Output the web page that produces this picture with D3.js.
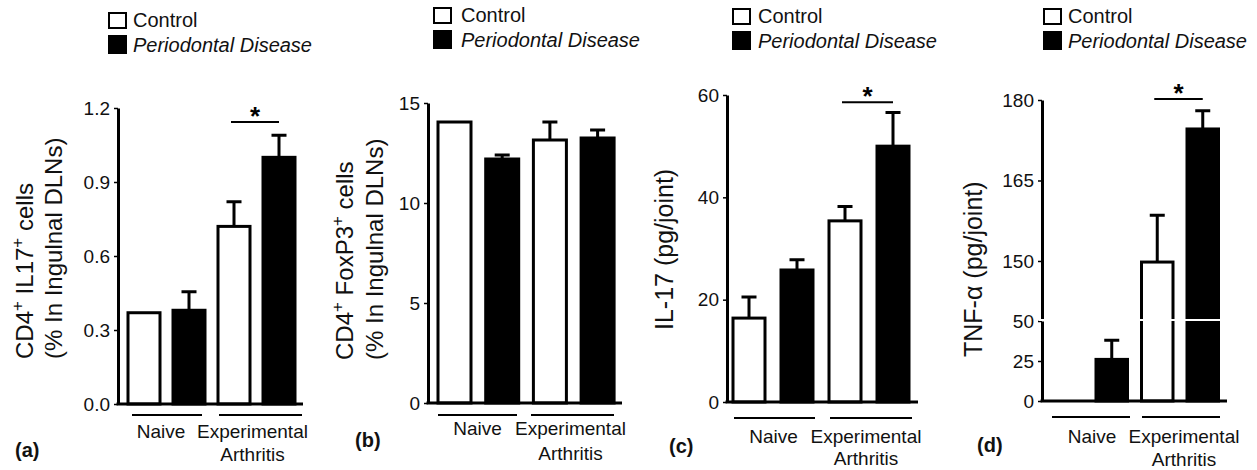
<!DOCTYPE html>
<html>
<head>
<meta charset="utf-8">
<script src="https://cdn.jsdelivr.net/npm/d3@7"></script>
<style>
  body { margin: 0; background: #fff; }
  svg { display: block; font-family: "Liberation Sans", Arial, sans-serif; }
  .tick text { font-size: 19px; fill: #111; }
</style>
</head>
<body>
<div id="chart"></div>
<script>
// categories
var groups = ["Naive", "Experimental Arthritis"];
var series = ["Control", "Periodontal Disease"];
// bar order: naive control, naive PD, arthritis control, arthritis PD
var bars = [0, 1, 2, 3];

// (a) CD4+ IL17+ cells (% in inguinal DLNs)
var il17CellMean = [0.37, 0.38, 0.72, 1.00];
var il17CellSem = [0, 0.075, 0.10, 0.09];
var il17CellTicks = [0, 0.3, 0.6, 0.9, 1.2];

// (b) CD4+ FoxP3+ cells (% in inguinal DLNs)
var foxp3Mean = [14.05, 12.2, 13.15, 13.25];
var foxp3Sem = [0, 0.2, 0.9, 0.4];
var foxp3Ticks = [0, 5, 10, 15];

// (c) IL-17 (pg/joint)
var il17JointMean = [16.4, 25.8, 35.4, 50.0];
var il17JointSem = [4.1, 2.0, 2.8, 6.6];
var il17JointTicks = [0, 20, 40, 60];

// (d) TNF-alpha (pg/joint), broken axis
var tnfMean = [0, 26, 149.8, 174.6];
var tnfSem = [0, 12, 8.7, 3.4];
var tnfTicksLow = [0, 25, 50];
var tnfTicksHigh = [150, 165, 180];

var svgWidth = 1257;
var svgHeight = 470;
var ink = "#111";

var svg = d3.select("#chart").append("svg")
    .attr("width", svgWidth)
    .attr("height", svgHeight);

svg.append("rect")
    .attr("width", svgWidth)
    .attr("height", svgHeight)
    .attr("fill", "#fff");

// panel layouts (pixels only)
var panels = [
    {
        letter: "(a)", letterX: 15, letterY: 457,
        mean: il17CellMean, sem: il17CellSem, ticks: il17CellTicks, fmt: d3.format(".1f"),
        axisX: 118, y0: 404, yTop: 108, barStart: 128, step: 45, bw: 32, xEnd: 303,
        lineY: 415, naiveBase: 438, arthBase: 461,
        lines: [[132, 202], [219, 302]], labelShift: [-6, -8],
        sig: 1.143,
        legend: { sx: 108, tx: 133, top: 12 },
        ylabel: [
            { x: 33, parts: [["CD4", 0], ["+", 1], [" IL17", 0], ["+", 1], [" cells", 0]] },
            { x: 62, parts: [["(% In Ingulnal DLNs)", 0]] }
        ],
        ylabelBottom: 359, ylabelSize: 24
    },
    {
        letter: "(b)", letterX: 355, letterY: 447,
        mean: foxp3Mean, sem: foxp3Sem, ticks: foxp3Ticks, fmt: d3.format("d"),
        axisX: 428, y0: 403, yTop: 103, barStart: 438, step: 47.7, bw: 33, xEnd: 622,
        lineY: 415, naiveBase: 435, arthBase: 460,
        lines: [[438, 517], [531, 614]], labelShift: [0, -2],
        sig: null,
        legend: { sx: 433, tx: 461, top: 7 },
        ylabel: [
            { x: 353, parts: [["CD4", 0], ["+", 1], [" FoxP3", 0], ["+", 1], [" cells", 0]] },
            { x: 383, parts: [["(% In Ingulnal DLNs)", 0]] }
        ],
        ylabelBottom: 360, ylabelSize: 24
    },
    {
        letter: "(c)", letterX: 669, letterY: 453,
        mean: il17JointMean, sem: il17JointSem, ticks: il17JointTicks, fmt: d3.format("d"),
        axisX: 727, y0: 402, yTop: 95, barStart: 733, step: 48, bw: 32, xEnd: 918,
        lineY: 418, naiveBase: 443, arthBase: 465,
        lines: [[734, 815], [830, 912]], labelShift: [-1, -5],
        sig: 58.6,
        legend: { sx: 732, tx: 758, top: 8 },
        ylabel: [
            { x: 673, parts: [["IL-17 (pg/joint)", 0]] }
        ],
        ylabelBottom: 330, ylabelSize: 25
    },
    {
        letter: "(d)", letterX: 977, letterY: 452,
        mean: tnfMean, sem: tnfSem, ticks: null, fmt: d3.format("d"),
        axisX: 1042, y0: 401, yTop: 100, barStart: 1050.5, step: 45.5, bw: 31.5, xEnd: 1227,
        lineY: 417, naiveBase: 443, arthBase: 466,
        lines: [[1052, 1130], [1142, 1220]], labelShift: [1, 3],
        sig: 180.2,
        legend: { sx: 1043, tx: 1068, top: 8 },
        ylabel: [
            { x: 982, parts: [["TNF-\u03B1 (pg/joint)", 0]] }
        ],
        ylabelBottom: 357, ylabelSize: 25
    }
];

panels.forEach(function(p, pi) {
    var g = svg.append("g");

    // y scale (panel d gets a broken axis from two scales)
    var yScale, yLow, yHigh, breakY = 320;
    if (pi === 3) {
        yLow = d3.scaleLinear().domain([0, 50]).range([p.y0, breakY + 1]);
        yHigh = d3.scaleLinear().domain([139, 180]).range([breakY, p.yTop]);
        yScale = function(v) { return v <= 50 ? yLow(v) : yHigh(v); };
    } else {
        yScale = d3.scaleLinear()
            .domain([0, d3.max(p.ticks)])
            .range([p.y0, p.yTop]);
    }

    var pad = (p.step - p.bw) / 2;
    var xScale = d3.scaleBand()
        .domain(bars)
        .range([p.barStart - pad, p.barStart - pad + 4 * p.step])
        .paddingInner(1 - p.bw / p.step)
        .paddingOuter((1 - p.bw / p.step) / 2);

    // bars
    g.selectAll(".bar")
        .data(bars)
        .enter()
        .append("rect")
        .attr("class", "bar")
        .attr("x", d => xScale(d))
        .attr("width", xScale.bandwidth())
        .attr("y", d => yScale(p.mean[d]))
        .attr("height", d => p.y0 - yScale(p.mean[d]))
        .attr("fill", d => d % 2 === 0 ? "#fff" : "#000")
        .attr("stroke", "#000")
        .attr("stroke-width", 3)
        .style("display", d => p.mean[d] > 0 ? null : "none");

    // error bars (upper only)
    var errs = bars.filter(d => p.sem[d] > 0);
    g.selectAll(".err")
        .data(errs)
        .enter()
        .append("path")
        .attr("class", "err")
        .attr("d", function(d) {
            var cx = xScale(d) + xScale.bandwidth() / 2;
            var top = yScale(p.mean[d] + p.sem[d]);
            return "M" + cx + "," + yScale(p.mean[d]) + "V" + top +
                "M" + (cx - 7.5) + "," + top + "H" + (cx + 7.5);
        })
        .attr("fill", "none")
        .attr("stroke", "#000")
        .attr("stroke-width", 3);

    // y axis
    function styleAxis(sel) {
        sel.select(".domain").attr("stroke", "#000").attr("stroke-width", 3);
        sel.selectAll(".tick line").attr("stroke", "#000").attr("stroke-width", 1.5);
        sel.selectAll(".tick text").attr("fill", ink).style("font-size", "19px");
    }
    if (pi === 3) {
        var axLow = g.append("g")
            .attr("transform", `translate(${p.axisX},0)`)
            .call(d3.axisLeft(yLow).tickValues(tnfTicksLow).tickFormat(p.fmt)
                .tickSize(4).tickPadding(4).tickSizeOuter(0));
        styleAxis(axLow);
        var axHigh = g.append("g")
            .attr("transform", `translate(${p.axisX},0)`)
            .call(d3.axisLeft(yHigh).tickValues(tnfTicksHigh).tickFormat(p.fmt)
                .tickSize(4).tickPadding(4).tickSizeOuter(0));
        styleAxis(axHigh);
    } else {
        var ax = g.append("g")
            .attr("transform", `translate(${p.axisX},0)`)
            .call(d3.axisLeft(yScale).tickValues(p.ticks).tickFormat(p.fmt)
                .tickSize(4).tickPadding(4).tickSizeOuter(0));
        styleAxis(ax);
    }

    // x axis line
    g.append("line")
        .attr("x1", p.axisX - 1.5)
        .attr("x2", p.xEnd)
        .attr("y1", p.y0)
        .attr("y2", p.y0)
        .attr("stroke", "#000")
        .attr("stroke-width", 3);

    // break gap for panel d
    if (pi === 3) {
        g.append("rect")
            .attr("x", p.axisX - 3)
            .attr("width", p.xEnd - p.axisX + 3)
            .attr("y", breakY - 1)
            .attr("height", 2)
            .attr("fill", "#fff");
    }

    // group lines and labels
    p.lines.forEach(function(l, i) {
        g.append("line")
            .attr("x1", l[0]).attr("x2", l[1])
            .attr("y1", p.lineY).attr("y2", p.lineY)
            .attr("stroke", "#000")
            .attr("stroke-width", 2);
        var cx = (l[0] + l[1]) / 2 + p.labelShift[i];
        var words = groups[i].split(" ");
        words.forEach(function(w, wi) {
            g.append("text")
                .attr("x", cx)
                .attr("y", wi === 0 ? p.naiveBase : p.arthBase)
                .attr("text-anchor", "middle")
                .attr("fill", ink)
                .style("font-size", "19px")
                .text(w);
        });
    });

    // panel letter
    g.append("text")
        .attr("x", p.letterX)
        .attr("y", p.letterY)
        .attr("fill", ink)
        .style("font-size", "20px")
        .style("font-weight", "bold")
        .text(p.letter);

    // significance bar
    if (p.sig !== null) {
        var sx1 = xScale(2) + xScale.bandwidth() / 2 - 3;
        var sx2 = xScale(3) + xScale.bandwidth() / 2;
        var sy = yScale(p.sig);
        g.append("line")
            .attr("x1", sx1).attr("x2", sx2)
            .attr("y1", sy).attr("y2", sy)
            .attr("stroke", "#000")
            .attr("stroke-width", 2);
        g.append("text")
            .attr("x", (sx1 + sx2) / 2)
            .attr("y", sy + 15)
            .attr("text-anchor", "middle")
            .attr("fill", "#000")
            .style("font-size", "26px")
            .style("font-weight", "bold")
            .text("*")
            .attr("transform", `translate(0,-12)`);
    }

    // legend
    series.forEach(function(s, i) {
        var top = p.legend.top + i * 23;
        g.append("rect")
            .attr("x", p.legend.sx + 1)
            .attr("y", top + 1)
            .attr("width", 17)
            .attr("height", i === 0 ? 15 : 17)
            .attr("fill", i === 0 ? "#fff" : "#000")
            .attr("stroke", "#000")
            .attr("stroke-width", 2);
        g.append("text")
            .attr("x", p.legend.tx)
            .attr("y", top + (i === 0 ? 15 : 17))
            .attr("fill", ink)
            .style("font-size", "20px")
            .style("font-style", i === 1 ? "italic" : "normal")
            .text(s);
    });

    // y label (rotated, may have superscripts)
    p.ylabel.forEach(function(line) {
        var t = g.append("text")
            .attr("transform", `translate(${line.x},${p.ylabelBottom}) rotate(-90)`)
            .attr("text-anchor", "start")
            .attr("fill", ink)
            .style("font-size", p.ylabelSize + "px");
        var raised = false;
        line.parts.forEach(function(part) {
            var ts = t.append("tspan").text(part[0]);
            if (part[1]) {
                ts.attr("dy", -10).style("font-size", "17px");
                raised = true;
            } else if (raised) {
                ts.attr("dy", 10);
                raised = false;
            }
        });
    });
});
</script>
</body>
</html>
